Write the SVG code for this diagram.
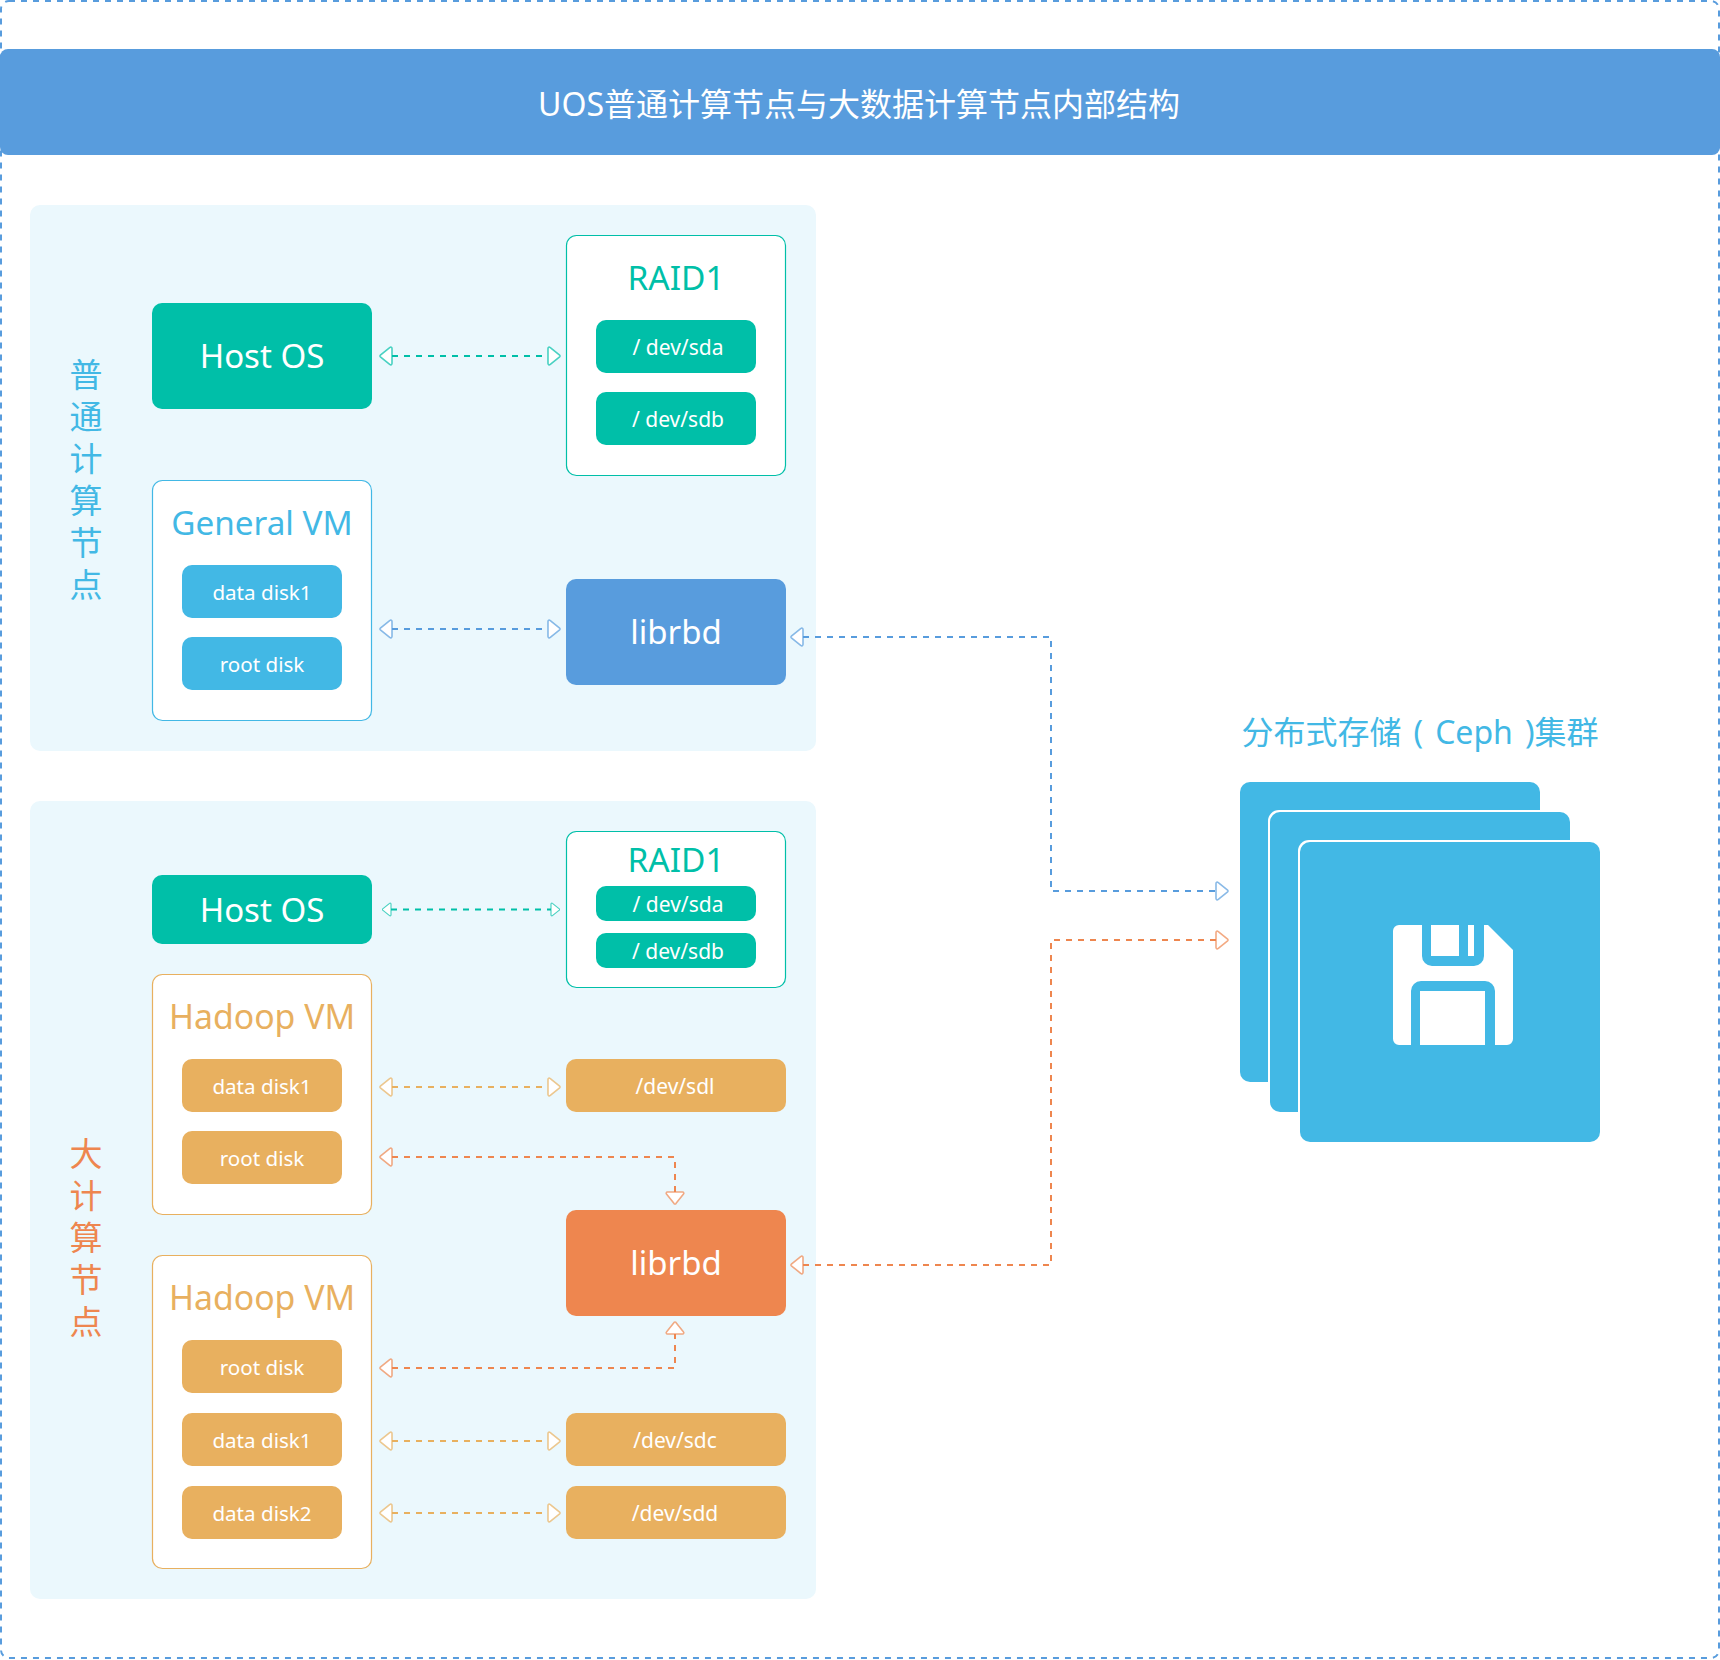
<svg xmlns="http://www.w3.org/2000/svg" width="1720" height="1660" viewBox="0 0 1720 1660">
<style>
text{font-family:"Noto Sans","Noto Sans CJK SC",sans-serif;text-anchor:middle}
.w{fill:#fff}.t34{font-size:33px}.t23{font-size:21px}.t32{font-size:32px}.tv{font-size:33px}.tr{font-size:33.500px}
.green{fill:#00BFA8}.blue{fill:#589CDD}.sky{fill:#42B8E5}.orange{fill:#EE864F}.yellow{fill:#E8B05F}
.box{fill:#fff;stroke-width:1.2}
.c{fill:none;stroke-width:2;stroke-dasharray:6 6}
.cg{stroke:#00BFA8;marker-start:url(#ag);marker-end:url(#ag)}
.cb{stroke:#589CDD;marker-start:url(#ab);marker-end:url(#ab)}
.cy{stroke:#E8B05F;marker-start:url(#ay);marker-end:url(#ay)}
.co{stroke:#EE864F;marker-start:url(#ao);marker-end:url(#ao)}
.head{fill:#fff;stroke-width:1.6;stroke-opacity:.7}
</style>
<defs>
<path id="h" d="M1 2.4a1.2 1.2 0 0 1 2-.9L12.6 9.1a1.2 1.2 0 0 1 0 1.8L3 18.5a1.2 1.2 0 0 1-2-.9Z"/>
<marker id="ag" markerUnits="userSpaceOnUse" viewBox="0 0 14 20" markerWidth="14" markerHeight="20" refX="1" refY="10" orient="auto-start-reverse"><use href="#h" class="head" stroke="#00BFA8"/></marker>
<marker id="ab" markerUnits="userSpaceOnUse" viewBox="0 0 14 20" markerWidth="14" markerHeight="20" refX="1" refY="10" orient="auto-start-reverse"><use href="#h" class="head" stroke="#589CDD"/></marker>
<marker id="ay" markerUnits="userSpaceOnUse" viewBox="0 0 14 20" markerWidth="14" markerHeight="20" refX="1" refY="10" orient="auto-start-reverse"><use href="#h" class="head" stroke="#E8B05F"/></marker>
<marker id="ao" markerUnits="userSpaceOnUse" viewBox="0 0 14 20" markerWidth="14" markerHeight="20" refX="1" refY="10" orient="auto-start-reverse"><use href="#h" class="head" stroke="#EE864F"/></marker>
<marker id="agS" markerUnits="userSpaceOnUse" viewBox="0 0 14 20" markerWidth="10" markerHeight="15" refX="1" refY="10" orient="auto-start-reverse"><use href="#h" class="head" stroke="#00BFA8"/></marker>
</defs>
<rect id="frame" x="1" y="1" width="1718" height="1657" rx="8" fill="#fff" stroke="#589CDD" stroke-width="2" stroke-dasharray="6 6"/>
<g id="title"><rect x="0" y="49" width="1720" height="106" rx="8" class="blue"/><text x="859" y="116" class="w t32">UOS普通计算节点与大数据计算节点内部结构</text></g>
<rect id="panel1" x="30" y="205" width="786" height="546" rx="10" fill="#EBF8FD"/>
<rect id="panel2" x="30" y="801" width="786" height="798" rx="10" fill="#EBF8FD"/>
<g id="label1"><text class="sky tv"><tspan x="86" y="387">普</tspan><tspan x="86" y="429">通</tspan><tspan x="86" y="471">计</tspan><tspan x="86" y="513">算</tspan><tspan x="86" y="555">节</tspan><tspan x="86" y="597">点</tspan></text></g>
<g id="label2"><text class="orange tv"><tspan x="86" y="1166">大</tspan><tspan x="86" y="1208">计</tspan><tspan x="86" y="1250">算</tspan><tspan x="86" y="1292">节</tspan><tspan x="86" y="1334">点</tspan></text></g>
<g id="host1"><rect x="152" y="303" width="220" height="106" rx="10" class="green"/><text x="262" y="368" class="w t34">Host OS</text></g>
<g id="raid1a"><rect x="566.500" y="235.500" width="219" height="240" rx="10" class="box" stroke="#00BFA8"/><text x="676" y="290" class="green tr">RAID1</text><rect x="596" y="320" width="160" height="53" rx="10" class="green"/><text x="678" y="355" class="w t23">/ dev/sda</text><rect x="596" y="392" width="160" height="53" rx="10" class="green"/><text x="678" y="427" class="w t23">/ dev/sdb</text></g>
<g id="gvm"><rect x="152.500" y="480.500" width="219" height="240" rx="10" class="box" stroke="#42B8E5"/><text x="262" y="535" class="sky" font-size="33.300">General VM</text><rect x="182" y="565" width="160" height="53" rx="10" class="sky"/><text x="262" y="600" class="w" font-size="20.600">data disk1</text><rect x="182" y="637" width="160" height="53" rx="10" class="sky"/><text x="262" y="672" class="w" font-size="20.600">root disk</text></g>
<g id="librbd1"><rect x="566" y="579" width="220" height="106" rx="10" class="blue"/><text x="676" y="644" class="w t34">librbd</text></g>
<g id="host2"><rect x="152" y="875" width="220" height="69" rx="10" class="green"/><text x="262" y="922" class="w t34">Host OS</text></g>
<g id="raid1b"><rect x="566.500" y="831.500" width="219" height="156" rx="10" class="box" stroke="#00BFA8"/><text x="676" y="872" class="green tr">RAID1</text><rect x="596" y="886" width="160" height="35" rx="10" class="green"/><text x="678" y="912" class="w t23">/ dev/sda</text><rect x="596" y="933" width="160" height="35" rx="10" class="green"/><text x="678" y="959" class="w t23">/ dev/sdb</text></g>
<g id="hvm1"><rect x="152.500" y="974.500" width="219" height="240" rx="10" class="box" stroke="#E8B05F"/><text x="262" y="1029" class="yellow" font-size="33.800">Hadoop VM</text><rect x="182" y="1059" width="160" height="53" rx="10" class="yellow"/><text x="262" y="1094" class="w" font-size="20.600">data disk1</text><rect x="182" y="1131" width="160" height="53" rx="10" class="yellow"/><text x="262" y="1166" class="w" font-size="20.600">root disk</text></g>
<g id="sdl"><rect x="566" y="1059" width="220" height="53" rx="10" class="yellow"/><text x="675" y="1094" class="w t23">/dev/sdl</text></g>
<g id="librbd2"><rect x="566" y="1210" width="220" height="106" rx="10" class="orange"/><text x="676" y="1275" class="w t34">librbd</text></g>
<g id="hvm2"><rect x="152.500" y="1255.500" width="219" height="313" rx="10" class="box" stroke="#E8B05F"/><text x="262" y="1310" class="yellow" font-size="33.800">Hadoop VM</text><rect x="182" y="1340" width="160" height="53" rx="10" class="yellow"/><text x="262" y="1375" class="w" font-size="20.600">root disk</text><rect x="182" y="1413" width="160" height="53" rx="10" class="yellow"/><text x="262" y="1448" class="w" font-size="20.600">data disk1</text><rect x="182" y="1486" width="160" height="53" rx="10" class="yellow"/><text x="262" y="1521" class="w" font-size="20.600">data disk2</text></g>
<g id="sdc"><rect x="566" y="1413" width="220" height="53" rx="10" class="yellow"/><text x="675" y="1448" class="w t23">/dev/sdc</text></g>
<g id="sdd"><rect x="566" y="1486" width="220" height="53" rx="10" class="yellow"/><text x="675" y="1521" class="w t23">/dev/sdd</text></g>
<g id="ceph"><text x="1420" y="744" class="sky t32" word-spacing="3.700">分布式存储 ( Ceph )集群</text>
<rect x="1240" y="782" width="300" height="300" rx="10" class="sky"/>
<rect x="1268" y="810" width="302" height="302" rx="11" fill="#fff"/><rect x="1270" y="812" width="300" height="300" rx="10" class="sky"/>
<rect x="1298" y="840" width="302" height="302" rx="11" fill="#fff"/><rect x="1300" y="842" width="300" height="300" rx="10" class="sky"/>
<path fill="#fff" d="M1399 925H1422V956a10 10 0 0 0 10 10h42a10 10 0 0 0 10-10V925h4L1513 950V1039a6 6 0 0 1-6 6H1495V991a10 10 0 0 0-10-10H1421a10 10 0 0 0-10 10V1045H1399a6 6 0 0 1-6-6V931a6 6 0 0 1 6-6Z"/>
<rect x="1431" y="925" width="28" height="31" fill="#fff"/><rect x="1468" y="925" width="6" height="31" fill="#fff"/><rect x="1420" y="991" width="65" height="54" fill="#fff"/></g>
<g id="connectors">
<path class="c cg" d="M392 356H548"/>
<path class="c cb" d="M392 629H548"/>
<path class="c cb" d="M803 637H1051V891H1216"/>
<path class="c" stroke="#00BFA8" marker-start="url(#agS)" marker-end="url(#agS)" d="M391 909.500H551"/>
<path class="c cy" d="M392 1087H548"/>
<path class="c co" d="M392 1157H675V1192"/>
<path class="c co" d="M803 1265H1051V940H1216"/>
<path class="c co" d="M392 1368H675V1334"/>
<path class="c cy" d="M392 1441H548"/>
<path class="c cy" d="M392 1513H548"/>
</g>
</svg>
